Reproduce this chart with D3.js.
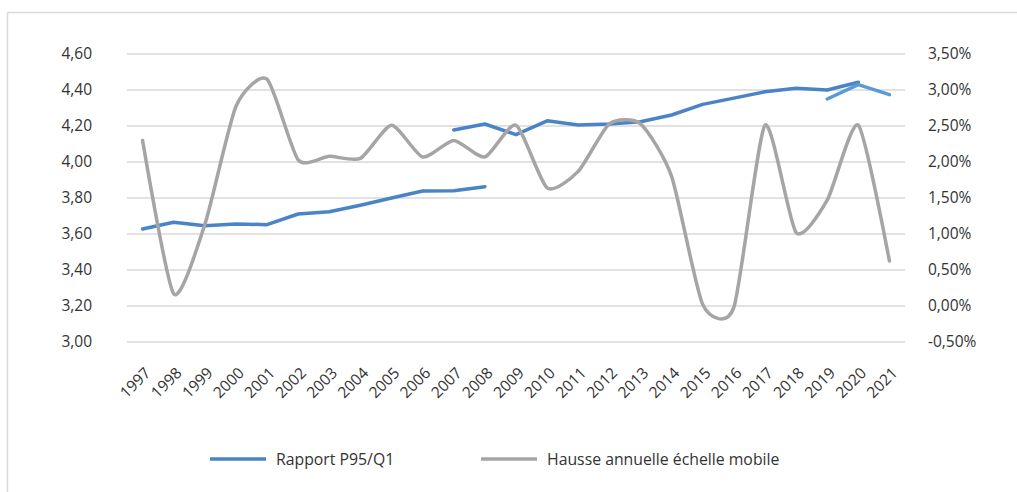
<!DOCTYPE html>
<html><head><meta charset="utf-8">
<script src="https://cdn.jsdelivr.net/npm/d3@7"></script>
<style>
html,body{margin:0;padding:0;background:#fff;}
svg{display:block;}
text{font-family:"Open Sans",sans-serif;fill:#333;}
</style></head>
<body>
<svg id="c" width="1017" height="492"></svg>
<script>
const years = ["1997","1998","1999","2000","2001","2002","2003","2004","2005","2006","2007","2008","2009","2010","2011","2012","2013","2014","2015","2016","2017","2018","2019","2020","2021"];
// Rapport P95/Q1 (three separate pieces)
const ratioAYears = ["1997","1998","1999","2000","2001","2002","2003","2004","2005","2006","2007","2008"];
const ratioA = [3.628, 3.665, 3.646, 3.656, 3.652, 3.711, 3.724, 3.760, 3.800, 3.839, 3.840, 3.863];
const ratioBYears = ["2007","2008","2009","2010","2011","2012","2013","2014","2015","2016","2017","2018","2019","2020"];
const ratioB = [4.178, 4.211, 4.152, 4.229, 4.206, 4.211, 4.224, 4.261, 4.320, 4.355, 4.390, 4.410, 4.400, 4.443];
const ratioCYears = ["2019","2020","2021"];
const ratioC = [4.350, 4.430, 4.374];
// Hausse annuelle échelle mobile (%)
const hausse = [2.30, 0.17, 1.13, 2.77, 3.15, 2.03, 2.08, 2.05, 2.51, 2.07, 2.30, 2.07, 2.51, 1.64, 1.87, 2.53, 2.53, 1.80, 0.02, -0.02, 2.51, 1.02, 1.47, 2.51, 0.625];
const leftTicks = [3.0, 3.2, 3.4, 3.6, 3.8, 4.0, 4.2, 4.4, 4.6];
const rightTicks = [-0.5, 0, 0.5, 1.0, 1.5, 2.0, 2.5, 3.0, 3.5];
const legendLabels = ["Rapport P95/Q1", "Hausse annuelle échelle mobile"];

const colBlue = "#4a84c7", colBlue2 = "#5b9bd5", colGray = "#a5a5a5", colGrid = "#d9d9d9";
const loc = d3.formatLocale({decimal: ",", thousands: " ", grouping: [3], currency: ["", "€"], minus: "-"});
const fmtL = loc.format(".2f");
const fmtR = v => loc.format(".2f")(v) + "%";

const svg = d3.select("#c");
const L = 127, R = 905, T = 54, B = 342;

// outer frame
svg.append("line").attr("x1",7.5).attr("x2",1017).attr("y1",12.5).attr("y2",12.5).attr("stroke",colGrid).attr("stroke-width",1.5);
svg.append("line").attr("x1",7.5).attr("x2",7.5).attr("y1",12.5).attr("y2",492).attr("stroke",colGrid).attr("stroke-width",1.5);

const x = d3.scaleBand().domain(years).range([L, R]);
const cx = d => x(d) + x.bandwidth()/2;
const yL = d3.scaleLinear().domain([3.0, 4.6]).range([B, T]);
const yR = d3.scaleLinear().domain([-0.5, 3.5]).range([B, T]);

// gridlines
svg.append("g").selectAll("line").data(leftTicks).join("line")
  .attr("x1", L).attr("x2", R).attr("y1", d => yL(d)).attr("y2", d => yL(d))
  .attr("stroke", colGrid).attr("stroke-width", 1.5);

// left axis
const axL = d3.axisLeft(yL).tickValues(leftTicks).tickFormat(fmtL).tickSize(0).tickPadding(0);
const gL = svg.append("g").attr("transform", "translate(92,0)").call(axL);
gL.select(".domain").remove();
gL.selectAll("text").attr("font-size", 15.5).attr("fill", "#333").attr("font-family", "Open Sans");

// right axis
const axR = d3.axisRight(yR).tickValues(rightTicks).tickFormat(fmtR).tickSize(0).tickPadding(0);
const gR = svg.append("g").attr("transform", "translate(928,0)").call(axR);
gR.select(".domain").remove();
gR.selectAll("text").attr("font-size", 15.5).attr("fill", "#333").attr("font-family", "Open Sans");

// bottom axis
const axB = d3.axisBottom(x).tickSize(0).tickPadding(0);
const gB = svg.append("g").call(axB);
gB.select(".domain").remove();
gB.selectAll(".tick").attr("transform", d => `translate(${cx(d)+9},374)`);
gB.selectAll("text").attr("font-size", 15.5).attr("fill", "#333").attr("font-family", "Open Sans")
  .attr("text-anchor", "end").attr("dy", 0).attr("y", 0).attr("transform", "rotate(-45)");

// blue lines
const lineL = d3.line().x(d => cx(d[0])).y(d => yL(d[1]));
[[ratioAYears, ratioA, colBlue], [ratioBYears, ratioB, colBlue], [ratioCYears, ratioC, colBlue2]].forEach(([ys, vs, c]) => {
  svg.append("path").datum(ys.map((y, i) => [y, vs[i]]))
    .attr("d", lineL).attr("fill", "none").attr("stroke", c).attr("stroke-width", 3.5)
    .attr("stroke-linejoin", "round").attr("stroke-linecap", "round");
});

// gray smoothed line
const lineR = d3.line().x((d, i) => cx(years[i])).y(d => yR(d)).curve(d3.curveCardinal.tension(0.35));
svg.append("path").datum(hausse).attr("d", lineR).attr("fill", "none")
  .attr("stroke", colGray).attr("stroke-width", 3.5).attr("stroke-linecap", "round").attr("stroke-linejoin", "round");

// legend
const leg = [{x: 210, c: colBlue, t: legendLabels[0]}, {x: 481, c: colGray, t: legendLabels[1]}];
const lg = svg.append("g");
leg.forEach(l => {
  lg.append("line").attr("x1", l.x).attr("x2", l.x + 56).attr("y1", 459).attr("y2", 459)
    .attr("stroke", l.c).attr("stroke-width", 3.5);
  lg.append("text").attr("x", l.x + 66).attr("y", 459).attr("dy", "0.35em")
    .attr("font-size", 15.8).text(l.t);
});
</script>
</body></html>
